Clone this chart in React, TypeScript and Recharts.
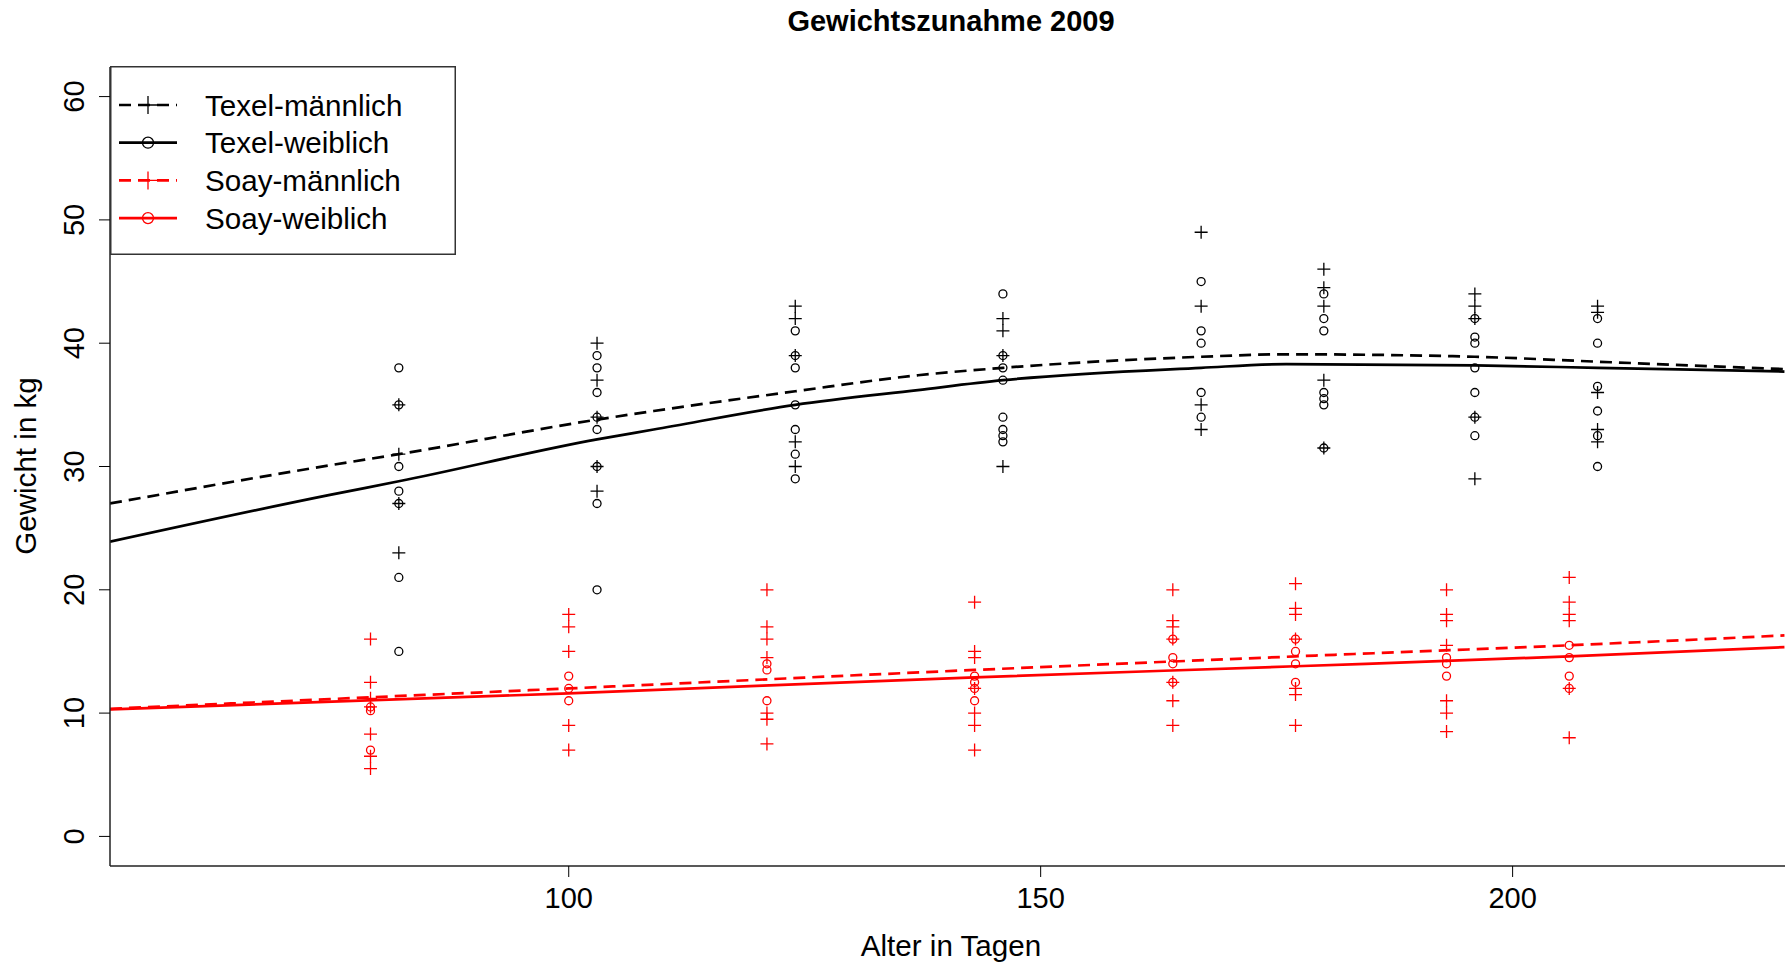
import React from "react";
import { ComposedChart, Scatter, Line, XAxis, YAxis, Legend } from "recharts";

// Sampling days of each weighing round (Soay plotted three days earlier)
const texelAges = [82, 103, 124, 146, 167, 180, 196, 209];
const soayAges = [79, 100, 121, 143, 164, 177, 193, 206];

// Individual weights per round (kg)
const texelMaleWeights = [
  [35, 31, 27, 23],
  [40, 37, 34, 30, 28],
  [43, 42, 39, 32, 30],
  [42, 41, 39, 30],
  [49, 43, 35, 33],
  [46, 44.5, 43, 37, 31.5],
  [44, 43, 42, 34, 29],
  [43, 42.5, 36, 33, 32],
];
const texelFemaleWeights = [
  [38, 35, 30, 28, 27, 21, 15],
  [39, 38, 36, 34, 33, 30, 27, 20],
  [41, 39, 38, 35, 33, 31, 29],
  [44, 39, 38, 37, 34, 33, 32.5, 32],
  [45, 41, 40, 36, 34],
  [44, 42, 41, 36, 35.5, 35, 31.5],
  [42, 40.5, 40, 38, 36, 34, 32.5],
  [42, 40, 36.5, 34.5, 32.5, 30],
];
const soayMaleWeights = [
  [16, 12.5, 11.2, 10.5, 8.3, 6.5, 5.5],
  [18, 17, 15, 9, 7],
  [20, 17, 16, 14.5, 10, 9.5, 7.5],
  [19, 15, 14.5, 12, 10, 9, 7],
  [20, 17.5, 17, 16, 12.5, 11, 9],
  [20.5, 18.5, 18, 16, 12, 11.5, 9],
  [20, 18, 17.5, 15.5, 11, 10, 8.5],
  [21, 19, 18, 17.5, 12, 8],
];
const soayFemaleWeights = [
  [10.5, 10.2, 7],
  [13, 12, 11],
  [14, 13.5, 11],
  [13, 12.5, 12, 11],
  [16, 14.5, 14, 12.5],
  [16, 15, 14, 12.5],
  [14.5, 14, 13],
  [15.5, 14.5, 13, 12],
];

// Fitted growth curves
const texelFitAges = [51.4, 74.7, 82, 103, 109, 124, 137, 146, 167, 176, 196, 209, 228.8];
const texelMaleFit = [27.0, 30.1, 31.0, 33.8, 34.5, 36.1, 37.4, 38.0, 38.9, 39.1, 38.9, 38.5, 37.9];
const texelFemaleFit = [23.9, 27.7, 28.8, 32.2, 33.0, 35.0, 36.2, 37.0, 38.0, 38.3, 38.2, 38.0, 37.7];
const soayFitAges = [51.4, 100, 143, 177, 206, 228.8];
const soayMaleFit = [10.35, 12.0, 13.5, 14.6, 15.5, 16.3];
const soayFemaleFit = [10.3, 11.6, 12.9, 13.8, 14.6, 15.35];

const xTicks = [100, 150, 200];
const yTicks = [0, 10, 20, 30, 40, 50, 60];

const FONT = '"Liberation Sans", Arial, sans-serif';
const RED = "#ff0000";
const BLACK = "#000000";
const DASH = "12 7";

type Pt = { age: number; weight: number };

const toPoints = (ages: number[], weights: number[][]): Pt[] =>
  ages.flatMap((age, i) => weights[i].map((weight) => ({ age, weight })));

const toCurve = (ages: number[], weights: number[]): Pt[] =>
  ages.map((age, i) => ({ age, weight: weights[i] }));

function PlusMark({ cx, cy, color, size = 6.5 }: { cx: number; cy: number; color: string; size?: number }) {
  return (
    <path
      d={`M${cx - size},${cy}H${cx + size}M${cx},${cy - size}V${cy + size}`}
      stroke={color}
      strokeWidth={1.3}
      fill="none"
    />
  );
}

function RingMark({ cx, cy, color, r = 4 }: { cx: number; cy: number; color: string; r?: number }) {
  return <circle cx={cx} cy={cy} r={r} stroke={color} strokeWidth={1.3} fill="none" />;
}

const legendRows = [
  { name: "Texel-männlich", color: BLACK, dash: DASH, mark: "plus" },
  { name: "Texel-weiblich", color: BLACK, dash: undefined, mark: "ring" },
  { name: "Soay-männlich", color: RED, dash: DASH, mark: "plus" },
  { name: "Soay-weiblich", color: RED, dash: undefined, mark: "ring" },
];

function LegendBox() {
  return (
    <svg width={346} height={189} style={{ display: "block" }}>
      <rect x={0.75} y={0.75} width={344.5} height={187.5} fill="#fff" stroke="#333" strokeWidth={1.5} />
      {legendRows.map((row, i) => {
        const cy = 39 + i * 37.7;
        return (
          <g key={row.name}>
            <line x1={9} x2={67} y1={cy} y2={cy} stroke={row.color} strokeWidth={2.7} strokeDasharray={row.dash} />
            {row.mark === "plus" ? (
              <PlusMark cx={38} cy={cy} color={row.color} size={9} />
            ) : (
              <RingMark cx={38} cy={cy} color={row.color} r={5.5} />
            )}
            <text x={95} y={cy + 10.5} fontSize={29.6} fill="#000" fontFamily={FONT}>
              {row.name}
            </text>
          </g>
        );
      })}
    </svg>
  );
}

function XTick(props: any) {
  const { x, y, payload } = props;
  return (
    <text x={x} y={y + 29} textAnchor="middle" fontSize={29} fill="#000" fontFamily={FONT}>
      {payload.value}
    </text>
  );
}

function YTick(props: any) {
  const { x, y, payload } = props;
  return (
    <g transform={`translate(${x - 13},${y}) rotate(-90)`}>
      <text textAnchor="middle" fontSize={29} fill="#000" fontFamily={FONT}>
        {payload.value}
      </text>
    </g>
  );
}

export default function App() {
  return (
    <div
      style={{
        position: "absolute",
        left: 0,
        top: 0,
        width: 1785,
        height: 965,
        overflow: "hidden",
        background: "#fff",
        fontFamily: FONT,
      }}
    >
      <ComposedChart width={1792} height={965} margin={{ top: 67, right: 0, bottom: 0, left: 0 }}>
        <XAxis
          type="number"
          dataKey="age"
          domain={[51.4, 229.6]}
          ticks={xTicks}
          allowDataOverflow
          height={99}
          tickSize={11}
          tick={XTick}
          axisLine={{ stroke: "#222", strokeWidth: 1.5 }}
          tickLine={{ stroke: "#000", strokeWidth: 1 }}
        />
        <XAxis
          xAxisId="top"
          orientation="top"
          type="number"
          dataKey="age"
          domain={[51.4, 229.6]}
          allowDataOverflow
          height={0}
          tick={false}
          tickLine={false}
          axisLine={{ stroke: "#333", strokeWidth: 1.5 }}
        />
        <YAxis
          type="number"
          dataKey="weight"
          domain={[-2.4, 62.4]}
          ticks={yTicks}
          allowDataOverflow
          width={110}
          tickSize={11}
          tick={YTick}
          axisLine={{ stroke: "#222", strokeWidth: 1.5 }}
          tickLine={{ stroke: "#000", strokeWidth: 1 }}
        />

        <Scatter
          name="Texel-männlich"
          data={toPoints(texelAges, texelMaleWeights)}
          dataKey="weight"
          isAnimationActive={false}
          shape={(p: any) => <PlusMark cx={p.cx} cy={p.cy} color={BLACK} />}
        />
        <Scatter
          name="Texel-weiblich"
          data={toPoints(texelAges, texelFemaleWeights)}
          dataKey="weight"
          isAnimationActive={false}
          shape={(p: any) => <RingMark cx={p.cx} cy={p.cy} color={BLACK} />}
        />
        <Scatter
          name="Soay-männlich"
          data={toPoints(soayAges, soayMaleWeights)}
          dataKey="weight"
          isAnimationActive={false}
          shape={(p: any) => <PlusMark cx={p.cx} cy={p.cy} color={RED} />}
        />
        <Scatter
          name="Soay-weiblich"
          data={toPoints(soayAges, soayFemaleWeights)}
          dataKey="weight"
          isAnimationActive={false}
          shape={(p: any) => <RingMark cx={p.cx} cy={p.cy} color={RED} />}
        />

        <Line
          data={toCurve(texelFitAges, texelMaleFit)}
          dataKey="weight"
          type="monotone"
          stroke={BLACK}
          strokeWidth={2.7}
          strokeDasharray={DASH}
          dot={false}
          activeDot={false}
          isAnimationActive={false}
        />
        <Line
          data={toCurve(texelFitAges, texelFemaleFit)}
          dataKey="weight"
          type="monotone"
          stroke={BLACK}
          strokeWidth={2.7}
          dot={false}
          activeDot={false}
          isAnimationActive={false}
        />
        <Line
          data={toCurve(soayFitAges, soayMaleFit)}
          dataKey="weight"
          type="monotone"
          stroke={RED}
          strokeWidth={2.7}
          strokeDasharray={DASH}
          dot={false}
          activeDot={false}
          isAnimationActive={false}
        />
        <Line
          data={toCurve(soayFitAges, soayFemaleFit)}
          dataKey="weight"
          type="monotone"
          stroke={RED}
          strokeWidth={2.7}
          dot={false}
          activeDot={false}
          isAnimationActive={false}
        />

        <Legend
          layout="horizontal"
          verticalAlign="middle"
          align="center"
          content={() => <LegendBox />}
          wrapperStyle={{ left: 110, top: 66, width: 346, height: 189, margin: 0, padding: 0 }}
        />

        <text x={951} y={31} textAnchor="middle" fontSize={29} fontWeight="bold" fill="#000" fontFamily={FONT}>
          Gewichtszunahme 2009
        </text>
        <text x={951} y={956} textAnchor="middle" fontSize={29.6} fill="#000" fontFamily={FONT}>
          Alter in Tagen
        </text>
        <g transform="translate(36,466) rotate(-90)">
          <text textAnchor="middle" fontSize={29.6} fill="#000" fontFamily={FONT}>
            Gewicht in kg
          </text>
        </g>
      </ComposedChart>
    </div>
  );
}
